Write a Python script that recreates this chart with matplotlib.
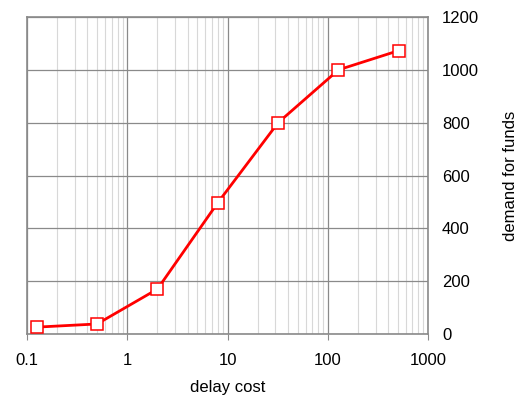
import matplotlib
matplotlib.use("Agg")
import matplotlib.pyplot as plt
from matplotlib.ticker import LogLocator, FixedLocator, FixedFormatter

delay_cost = [0.125, 0.5, 2, 8, 32, 128, 512]
demand = [26, 38, 170, 497, 800, 1000, 1073]
x_ticks = [0.1, 1, 10, 100, 1000]
x_labels = ["0.1", "1", "10", "100", "1000"]
y_ticks = [0, 200, 400, 600, 800, 1000, 1200]

plt.rcParams['font.family'] = ['Liberation Sans', 'DejaVu Sans']
fig = plt.figure(figsize=(5.29, 4.05), dpi=100)
ax = fig.add_axes([27/529, 1-334/405, (428-27)/529, (334-17)/405])
ax.set_xscale('log')
ax.set_xlim(0.1, 1000)
ax.set_ylim(0, 1200)

ax.plot(delay_cost, demand, color='#ff0000', lw=2, marker='s', ms=8,
        mfc='white', mec='#ff0000', mew=1.1, zorder=5)

ax.xaxis.set_major_locator(FixedLocator(x_ticks))
ax.xaxis.set_major_formatter(FixedFormatter(x_labels))
ax.xaxis.set_minor_locator(LogLocator(base=10, subs=range(2, 10), numticks=20))
ax.xaxis.set_minor_formatter(FixedFormatter([]))
ax.set_yticks(y_ticks)

ax.grid(which='major', color='#8a8a8a', lw=0.9)
ax.grid(which='minor', axis='x', color='#d8d8d8', lw=0.8)
ax.set_axisbelow(True)

ax.yaxis.tick_right()
ax.yaxis.set_label_position('right')
ax.tick_params(axis='y', which='both', length=0, labelsize=12, pad=10)
ax.tick_params(axis='x', which='major', length=4, color='#8a8a8a', labelsize=12, pad=9.5)
ax.tick_params(axis='x', which='minor', length=0)
for s in ax.spines.values():
    s.set_color('#8a8a8a')
    s.set_linewidth(1.2)

ax.set_xlabel('delay cost', fontsize=12, labelpad=9)
ax.set_ylabel('demand for funds', fontsize=12, labelpad=17)

fig.savefig('out.png', dpi=100)
